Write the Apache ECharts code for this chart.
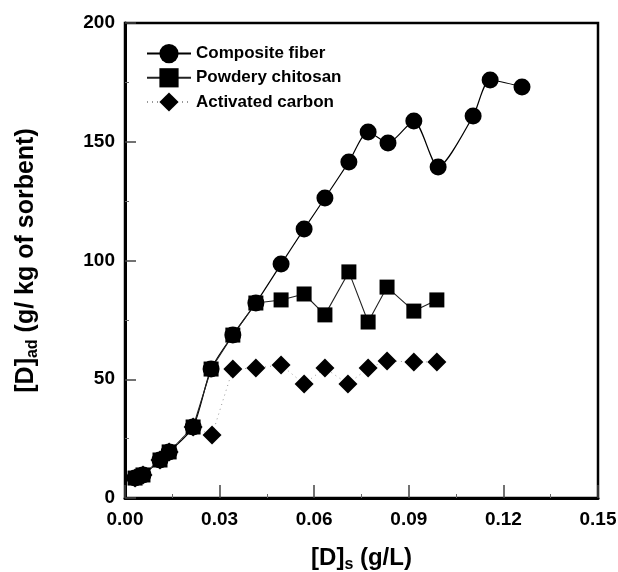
<!DOCTYPE html>
<html>
<head>
<meta charset="utf-8">
<script src="https://cdn.jsdelivr.net/npm/echarts@6/dist/echarts.min.js"></script>
<style>
  html, body { margin: 0; padding: 0; background: #fff; }
  #main { width: 618px; height: 572px; }
</style>
</head>
<body>
<div id="main"></div>
<script>
// series values
var legendNames = ['Composite fiber', 'Powdery chitosan', 'Activated carbon'];

var fiberX = [0.0032, 0.0057, 0.0111, 0.0140, 0.0216, 0.0273, 0.0342, 0.0415, 0.0495, 0.0568,
              0.0634, 0.0710, 0.0771, 0.0834, 0.0916, 0.0993, 0.1104, 0.1158, 0.1259];
var fiberY = [8.4, 9.7, 16.0, 19.4, 29.9, 54.3, 68.6, 82.1, 98.5, 113.3,
              126.3, 141.5, 154.1, 149.5, 158.7, 139.4, 160.8, 176.0, 173.1];

var chitosanX = [0.0032, 0.0057, 0.0111, 0.0140, 0.0216, 0.0273, 0.0342, 0.0415, 0.0495, 0.0568,
                 0.0634, 0.0710, 0.0771, 0.0831, 0.0916, 0.0989];
var chitosanY = [8.4, 9.7, 16.0, 19.4, 29.9, 54.3, 68.6, 82.1, 83.4, 85.9,
                 77.1, 95.2, 74.1, 88.8, 78.7, 83.4];

var carbonX = [0.0032, 0.0057, 0.0111, 0.0140, 0.0216, 0.0276, 0.0342, 0.0415, 0.0495, 0.0568,
               0.0634, 0.0707, 0.0771, 0.0831, 0.0916, 0.0989];
var carbonY = [8.4, 9.7, 16.0, 19.4, 29.9, 26.5, 54.3, 54.7, 56.0, 48.0,
               54.7, 48.0, 54.7, 57.7, 57.3, 57.3];

var xTicks = [0, 0.03, 0.06, 0.09, 0.12, 0.15];
var yTicks = [0, 50, 100, 150, 200];

function pairs(xs, ys) {
  var out = [];
  for (var i = 0; i < xs.length; i++) {
    out.push([xs[i], ys[i]]);
  }
  return out;
}

var myChart = echarts.init(document.getElementById('main'));

var font = 'Arial, "Liberation Sans", Helvetica, sans-serif';

// [D] with a subscript, for the axis names
function nameStyle(size, subSize) {
  return {
    rich: {
      a: { fontSize: size, fontWeight: 'bold', color: '#000', fontFamily: font, verticalAlign: 'middle', lineHeight: 30 },
      s: { fontSize: subSize, fontWeight: 'bold', color: '#000', fontFamily: font, verticalAlign: 'bottom', lineHeight: 14 }
    }
  };
}

var option = {
  animation: false,
  backgroundColor: '#fff',
  textStyle: { fontFamily: font },
  grid: {
    left: 125, right: 20, top: 23, bottom: 74,
    outerBoundsMode: 'none',
    show: true,
    borderColor: '#000',
    borderWidth: 2.5
  },
  legend: {
    data: legendNames,
    orient: 'vertical',
    left: 141,
    top: 39,
    itemWidth: 44,
    itemHeight: 24,
    itemGap: 5,
    textStyle: { fontSize: 17, fontWeight: 'bold', color: '#000', fontFamily: font }
  },
  xAxis: {
    type: 'value',
    min: xTicks[0],
    max: xTicks[xTicks.length - 1],
    interval: 0.03,
    name: '{a|[D]}{s|s}{a| (g/L)}',
    nameLocation: 'middle',
    nameGap: 45,
    nameTextStyle: nameStyle(24, 16),
    axisLine: { onZero: false, lineStyle: { color: '#000', width: 3 } },
    axisTick: { inside: true, length: 13, lineStyle: { color: '#444', width: 1.5 } },
    minorTick: { show: true, splitNumber: 2, length: 4, lineStyle: { color: '#666' } },
    axisLabel: {
      fontSize: 19, fontWeight: 'bold', color: '#000', margin: 12,
      formatter: function (v) { return v.toFixed(2); }
    },
    splitLine: { show: false }
  },
  yAxis: {
    type: 'value',
    min: yTicks[0],
    max: yTicks[yTicks.length - 1],
    interval: 50,
    name: '{a|[D]}{s|ad}{a| (g/ kg of sorbent)}',
    nameLocation: 'middle',
    nameRotate: 90,
    nameGap: 84,
    nameTextStyle: nameStyle(25, 16),
    axisLine: { onZero: false, lineStyle: { color: '#000', width: 3 } },
    axisTick: { inside: true, length: 11, lineStyle: { color: '#444', width: 1.5 } },
    minorTick: { show: true, splitNumber: 2, length: 4, lineStyle: { color: '#666' } },
    axisLabel: { fontSize: 19, fontWeight: 'bold', color: '#000', margin: 10 },
    splitLine: { show: false }
  },
  series: [
    {
      name: legendNames[0],
      type: 'line',
      data: pairs(fiberX, fiberY),
      symbol: 'circle',
      symbolSize: 17,
      smooth: 0.25,
      itemStyle: { color: '#000' },
      lineStyle: { color: '#000', width: 1.2 }
    },
    {
      name: legendNames[1],
      type: 'line',
      data: pairs(chitosanX, chitosanY),
      symbol: 'rect',
      symbolSize: 15,
      itemStyle: { color: '#000' },
      lineStyle: { color: '#222', width: 1.1 }
    },
    {
      name: legendNames[2],
      type: 'line',
      data: pairs(carbonX, carbonY),
      symbol: 'diamond',
      symbolSize: 19,
      itemStyle: { color: '#000' },
      lineStyle: { color: '#999', width: 1, type: [1, 4] }
    }
  ]
};

myChart.setOption(option);
</script>
</body>
</html>
